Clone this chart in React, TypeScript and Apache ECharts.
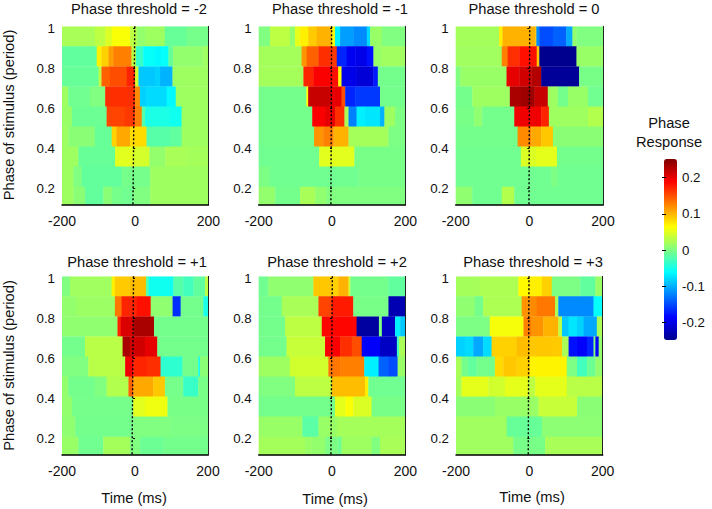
import React, { useEffect, useRef } from "react";
import * as echarts from "echarts";

type Row = number[];

const rowEdges = [1.01, 0.91, 0.81, 0.71, 0.61, 0.51, 0.41, 0.31, 0.21, 0.1185];
const yTicks = [0.2, 0.4, 0.6, 0.8, 1];
const barTicks = [-0.2, -0.1, 0, 0.1, 0.2];
const jetColors = ["#00008f", "#0000ff", "#0080ff", "#00ffff", "#80ff80", "#ffff00", "#ff8000", "#ff0000", "#800000"];
const panelTitles = ["Phase threshold = -2", "Phase threshold = -1", "Phase threshold = 0", "Phase threshold = +1", "Phase threshold = +2", "Phase threshold = +3"];

// Each row, top to bottom: start time, value, start time, value, ...
const panelA: Row[] = [
  [-200, 0.02, -110, 0.03, -82, 0.045, -64, 0.06, -14, 0.03, 4, 0.01, 27, 0.015, 81, -0.012, 141, -0.005],
  [-200, -0.015, -105, 0.07, -92, 0.085, -73, 0.11, -60, 0.125, -10, 0.03, 2, -0.035, 22, -0.06, 54, -0.065, 70, -0.06, 91, -0.012, 104, 0.01, 186, 0.015],
  [-200, -0.012, -100, 0.03, -92, 0.14, -69, 0.15, -23, 0.17, 0, 0.04, 9, -0.09, 54, -0.085, 68, -0.1, 102, 0.015],
  [-200, 0.015, -183, -0.008, -124, 0, -82, 0.165, 0, 0.12, 13, -0.085, 31, -0.08, 86, -0.065, 111, 0.015],
  [-200, 0.012, -173, -0.01, -78, 0.155, -28, 0.16, 0, 0.125, 18, -0.02, 27, -0.05, 95, -0.055, 127, 0.015],
  [-200, 0.015, -183, 0.005, -110, -0.012, -64, 0.085, -51, 0.105, -14, 0.08, 31, -0.02, 95, -0.015, 127, 0.015],
  [-200, 0.015, -155, -0.012, -55, 0.048, -5, 0.042, 39, 0.01, 82, 0.02, 141, 0.018],
  [-200, 0.015, -169, 0, -146, -0.014, -37, -0.005, 41, 0.015],
  [-200, 0.015, -169, 0.005, -137, -0.014, -87, 0.005, -64, -0.005, -37, -0.008, -5, 0, 41, 0.015],
];
const panelB: Row[] = [
  [-200, 0, -169, 0.03, -115, 0.01, -101, 0.05, -87, 0.07, -65, 0.088, -42, 0.1, -1, 0.06, 8, -0.07, 22, -0.11, 58, -0.12, 95, -0.08, 104, 0.012, 136, 0],
  [-200, 0.018, -83, 0.115, -69, 0.14, -37, 0.165, -1, 0.16, 13, -0.17, 40, -0.195, 64, -0.2, 95, -0.18, 113, 0.012, 136, 0.016],
  [-200, 0.018, -78, 0.17, -51, 0.19, -1, 0.18, 17, 0.06, 26, -0.2, 67, -0.21, 113, -0.175, 125, -0.006],
  [-200, -0.006, -70, 0.06, -65, 0.215, -1, 0.2, 26, 0.15, 36, -0.17, 63, -0.16, 131, -0.006],
  [-200, -0.006, -54, 0.19, -19, 0.2, 8, 0.165, 34, 0.02, 45, -0.125, 67, -0.07, 90, -0.075, 131, -0.1, 143, 0.015, 172, -0.002],
  [-200, -0.006, -49, 0.115, -24, 0.125, 4, 0.1, 45, 0.018, 154, -0.002],
  [-200, -0.008, -35, 0.048, 61, -0.004],
  [-200, -0.002, -169, -0.008, 72, -0.004],
  [-200, 0.01, -155, -0.006, -87, 0.02, -46, 0.008, -15, 0],
];
const panelC: Row[] = [
  [-200, 0.018, -82, 0.07, -73, 0.1, 16, 0.09, 19, -0.12, 27, -0.15, 64, -0.14, 100, -0.105, 117, 0.01, 128, 0],
  [-200, 0.016, -75, 0.125, -59, 0.165, -27, 0.18, 20, 0.09, 27, -0.25, 128, 0.012],
  [-200, 0, -187, 0.012, -62, 0.2, -27, 0.21, 5, 0.225, 32, -0.245, 135, -0.004],
  [-200, -0.006, -155, 0.015, -53, 0.23, -23, 0.235, 14, 0.215, 50, 0.015, 77, -0.006, 105, 0.012, 159, -0.008],
  [-200, -0.004, -150, 0.008, -128, -0.006, -41, 0.195, 32, 0.17, 53, 0.015, 159, 0.025],
  [-200, -0.006, -32, 0.12, 5, 0.105, 32, 0.09, 64, 0.005],
  [-200, -0.008, -23, 0.045, 18, 0.05, 75, -0.006],
  [-200, -0.008, 59, -0.002, 77, -0.008],
  [-200, 0.008, -155, -0.008, -75, 0.025, -41, -0.008],
];
const panelD: Row[] = [
  [-200, 0, -178, 0.016, -64, 0.07, -55, 0.088, -14, 0.095, 30, -0.02, 37, -0.055, 105, -0.02, 132, -0.03, 160, -0.015, 192, 0.03],
  [-200, 0.01, -160, 0.014, -55, 0.13, -37, 0.17, 5, 0.18, 43, 0.008, 103, -0.165, 125, -0.006, 187, -0.05],
  [-200, 0.008, -48, 0.17, -39, 0.205, -5, 0.23, 52, -0.006],
  [-200, -0.006, -137, 0.028, -34, 0.23, -14, 0.21, 27, 0.2, 61, -0.006],
  [-200, 0, -128, 0.028, -27, 0.195, -5, 0.17, 32, 0.165, 70, -0.04, 130, -0.006, 173, -0.05, 178, 0.005],
  [-200, 0.01, -183, -0.006, -110, 0, -78, 0.025, -18, 0.14, -5, 0.105, 50, 0.09, 82, -0.005, 132, -0.035, 173, -0.004],
  [-200, 0.01, -173, -0.005, -5, 0.048, 27, 0.055, 89, -0.004],
  [-200, 0.008, -164, -0.006, -5, 0, 96, -0.002],
  [-200, 0.012, -155, -0.008, -87, 0.018, -14, 0, 14, -0.01, 78, -0.006],
];
const panelE: Row[] = [
  [-200, -0.008, -174, 0.008, -51, 0.09, -1, 0.085, 17, 0.1, 45, 0.04, 50, -0.006, 154, -0.015],
  [-200, -0.006, -137, 0.02, -37, 0.155, -1, 0.175, 58, -0.004, 154, -0.23],
  [-200, -0.006, -128, 0.03, -28, 0.185, 67, -0.24, 128, 0, 136, -0.22, 172, -0.07, 186, -0.09],
  [-200, -0.006, -124, 0.035, -19, 0.19, 22, 0.165, 54, 0.15, 81, -0.19, 131, -0.22, 177, -0.03, 183, 0.02],
  [-200, 0.015, -115, 0.04, -10, 0.13, 22, 0.125, 88, -0.07, 127, -0.14, 153, -0.15, 179, 0.012],
  [-200, 0, -101, 0.03, -1, 0.095, 90, 0.07, 99, -0.008],
  [-200, -0.006, 8, 0.05, 36, 0.06, 58, 0.045, 108, -0.004],
  [-200, 0.012, -81, -0.018, -37, 0.012, 13, 0.018],
  [-200, 0.018, -74, 0.012, -56, 0.01, -19, -0.002, 17, -0.01, 26, 0.015, 108, 0, 131, 0.02],
];
const panelF: Row[] = [
  [-200, 0.018, -135, 0.022, -30, 0.065, -3, 0.07, 34, 0.085, 61, -0.002, 139, -0.015, 180, 0.012],
  [-200, 0.008, -149, -0.006, -126, 0.022, -21, 0.115, 2, 0.12, 20, 0.13, 70, 0.02, 79, -0.12, 175, -0.06],
  [-200, -0.002, -108, 0.058, -16, 0.125, 6, 0.115, 38, 0.1, 79, 0.03, 89, -0.09, 107, -0.075, 130, -0.085, 148, -0.105, 184, 0.02],
  [-200, -0.085, -176, -0.08, -153, -0.105, -126, -0.08, -103, 0.085, -35, 0.095, 2, 0.09, 61, 0.088, 89, 0.02, 107, -0.18, 130, -0.19, 157, -0.17, 175, 0, 180, -0.19, 189, 0.01],
  [-200, 0.02, -185, -0.006, -167, -0.015, -144, -0.006, -94, 0.08, -71, 0.09, -35, 0.085, 2, 0.068, 102, -0.002, 130, -0.03, 157, -0.01, 180, 0.01],
  [-200, 0.018, -185, 0.05, -112, 0.04, -67, 0.05, -3, 0.03, 16, 0.05, 102, 0.028],
  [-200, 0.005, -94, 0.012, 25, 0.035, 130, 0.005],
  [-200, 0.016, -62, -0.012, 34, 0.006],
  [-200, 0.016, -44, -0.004, 43, 0.02],
];
const panels = [panelA, panelB, panelC, panelD, panelE, panelF];
// Dashed line position: time at the top and at the bottom of each panel
const dashTimes = [[-1, -6], [-1, -3], [1, -1], [-4, -8], [1, -3], [-1, -3]];

const grids = [
  { left: 62, top: 26.3, width: 146.3, height: 178.7 },
  { left: 258.7, top: 26.3, width: 146.6, height: 178.7 },
  { left: 455.7, top: 26.3, width: 147.3, height: 178.7 },
  { left: 62, top: 276.3, width: 146, height: 178.7 },
  { left: 258.7, top: 276.3, width: 146.6, height: 178.7 },
  { left: 456, top: 276.3, width: 146.7, height: 178.7 },
];
const titleSpots = [[139, 9], [340, 9], [534, 9], [137, 262], [337, 262], [533, 262]];
const FONT = "Liberation Sans";
const BIG = 14.7;

function cellsOf(rows: Row[]) {
  const cells: number[][] = [];
  rows.forEach((row, r) => {
    for (let i = 0; i < row.length; i += 2) {
      const end = i + 2 < row.length ? row[i + 2] : 200;
      cells.push([row[i], end, rowEdges[r + 1], rowEdges[r], row[i + 1]]);
    }
  });
  return cells;
}

function renderCell(_: any, api: any) {
  const a = api.coord([api.value(0), api.value(2)]);
  const b = api.coord([api.value(1), api.value(3)]);
  return {
    type: "rect",
    shape: { x: a[0], y: b[1], width: b[0] - a[0] + 0.4, height: a[1] - b[1] + 0.4 },
    style: { fill: api.visual("color") },
  };
}

function buildOption() {
  const xAxis: any[] = [];
  const yAxis: any[] = [];
  const series: any[] = [];
  panels.forEach((rows, i) => {
    xAxis.push({
      type: "value", gridIndex: i, min: -200, max: 200, interval: 200, z: 5,
      splitLine: { show: false },
      axisLine: { show: true, lineStyle: { color: "#000", width: 1.5 } },
      axisTick: { show: false },
      axisLabel: { color: "#111", fontSize: 14, fontFamily: FONT, margin: 9, showMinLabel: true, showMaxLabel: true },
    });
    yAxis.push({
      type: "value", gridIndex: i, min: rowEdges[9], max: rowEdges[0], z: 5,
      splitLine: { show: false },
      axisLine: { show: false },
      axisTick: { show: true, length: 2, customValues: yTicks, lineStyle: { color: "#000" } },
      axisLabel: { color: "#111", fontSize: 13.3, fontFamily: FONT, margin: 7, customValues: yTicks },
    });
    yAxis.push({
      type: "value", gridIndex: i, position: "right", min: rowEdges[9], max: rowEdges[0], z: 5,
      splitLine: { show: false },
      axisLine: { show: true, onZero: false, lineStyle: { color: "#222", width: 1 } },
      axisTick: { show: false },
      axisLabel: { show: false },
    });
    series.push({
      type: "custom", xAxisIndex: i, yAxisIndex: i * 2, renderItem: renderCell, clip: true,
      encode: { x: [0, 1], y: [2, 3] }, data: cellsOf(rows), silent: true,
    });
  });
  panels.forEach((_, i) => {
    series.push({
      type: "line", xAxisIndex: i, yAxisIndex: i * 2, symbol: "none", z: 6, silent: true, clip: false,
      lineStyle: { color: "#000", width: 1.4, type: [2, 2] },
      data: [[dashTimes[i][0], rowEdges[0]], [dashTimes[i][1], rowEdges[9]]],
    });
  });
  xAxis.push({ type: "value", gridIndex: 6, show: false, min: 0, max: 1 });
  yAxis.push({
    type: "value", gridIndex: 6, position: "right", min: -0.25, max: 0.25, z: 10,
    splitLine: { show: false },
    axisLine: { show: false },
    axisTick: { show: true, inside: true, length: 2, customValues: barTicks, lineStyle: { color: "#000" } },
    axisLabel: { color: "#111", fontSize: 13.3, fontFamily: FONT, margin: 5, customValues: barTicks },
  });
  yAxis.push({
    type: "value", gridIndex: 6, position: "left", min: -0.25, max: 0.25, z: 10,
    splitLine: { show: false },
    axisLine: { show: false },
    axisTick: { show: true, inside: true, length: 2, customValues: barTicks, lineStyle: { color: "#000" } },
    axisLabel: { show: false },
  });

  const textStyle = { fontFamily: FONT, fontSize: BIG, fill: "#111" };
  const graphic: any[] = [
    { type: "text", x: 134, y: 498, style: { ...textStyle, text: "Time (ms)", align: "center", verticalAlign: "middle" } },
    { type: "text", x: 335, y: 499, style: { ...textStyle, text: "Time (ms)", align: "center", verticalAlign: "middle" } },
    { type: "text", x: 532, y: 497, style: { ...textStyle, text: "Time (ms)", align: "center", verticalAlign: "middle" } },
    { type: "text", x: 9, y: 115, rotation: Math.PI / 2, style: { ...textStyle, text: "Phase of stimulus (period)", align: "center", verticalAlign: "middle" } },
    { type: "text", x: 9, y: 365.5, rotation: Math.PI / 2, style: { ...textStyle, text: "Phase of stimulus (period)", align: "center", verticalAlign: "middle" } },
    { type: "text", x: 669, y: 123, style: { ...textStyle, text: "Phase", align: "center", verticalAlign: "middle" } },
    { type: "text", x: 669, y: 142, style: { ...textStyle, text: "Response", align: "center", verticalAlign: "middle" } },
  ];

  return {
    animation: false,
    backgroundColor: "#fff",
    title: panelTitles.map((text, i) => ({
      text, left: titleSpots[i][0], top: titleSpots[i][1] - 7.5, textAlign: "center", padding: 0,
      textStyle: { fontFamily: FONT, fontSize: BIG, fontWeight: "normal", color: "#111" },
    })),
    grid: [...grids, { left: 664, top: 159.5, width: 13, height: 181 }],
    xAxis,
    yAxis,
    visualMap: {
      type: "continuous", min: -0.25, max: 0.25, dimension: 4, seriesIndex: [0, 1, 2, 3, 4, 5],
      inRange: { color: jetColors }, calculable: false, hoverLink: false, realtime: false,
      left: 664, top: 159, itemWidth: 13, itemHeight: 181, padding: 0, text: ["", ""], showLabel: false,
    },
    graphic,
    series,
  };
}

export default function App() {
  const ref = useRef<HTMLDivElement>(null);
  useEffect(() => {
    const chart = echarts.init(ref.current!, undefined, { renderer: "svg" });
    chart.setOption(buildOption() as any);
    return () => chart.dispose();
  }, []);
  return <div ref={ref} style={{ position: "fixed", left: 0, top: 0, width: 712, height: 509, background: "#fff" }} />;
}
